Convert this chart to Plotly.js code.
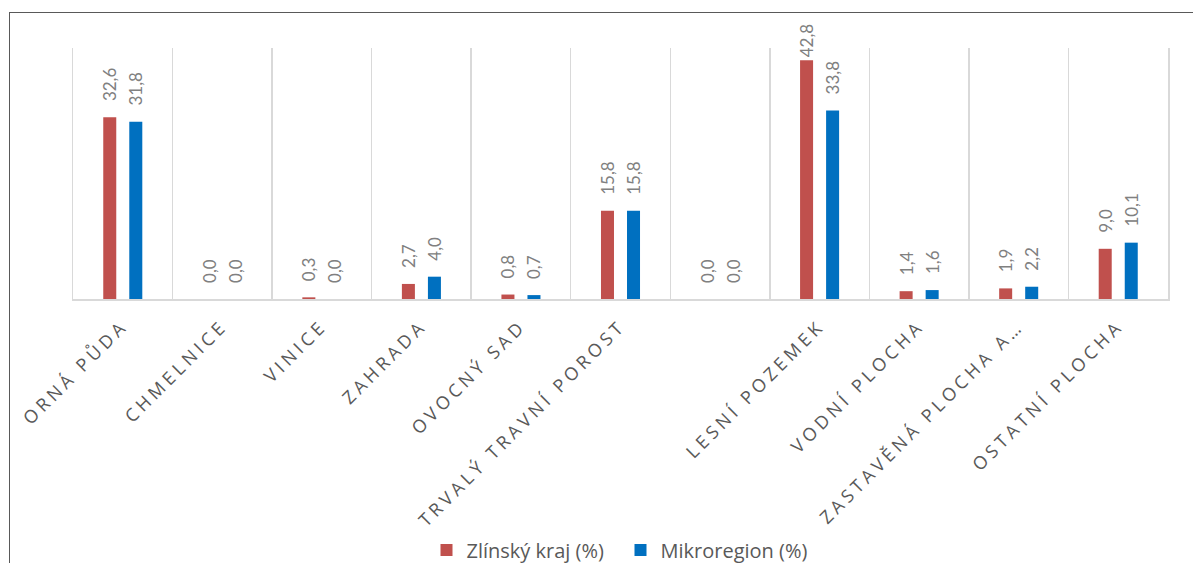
<!DOCTYPE html>
<html>
<head>
<meta charset="utf-8">
<script src="https://cdn.plot.ly/plotly-3.0.1.min.js"></script>
<style>
  html, body { margin: 0; padding: 0; background: #fff; overflow: hidden; }
  #wrap { position: relative; width: 1193px; height: 563px; }
  #chart { width: 1193px; height: 563px; }
  #frame { position: absolute; left: 9px; top: 12px; width: 1300px; height: 700px;
           border-left: 1px solid #595959; border-top: 1px solid #595959; pointer-events: none; }
  .xtick text { letter-spacing: 4px; }
</style>
</head>
<body>
<div id="wrap">
  <div id="chart"></div>
  <div id="frame"></div>
</div>
<script>
const categories = ["ORNÁ PŮDA", "CHMELNICE", "VINICE", "ZAHRADA", "OVOCNÝ SAD",
  "TRVALÝ TRAVNÍ POROST", "", "LESNÍ POZEMEK", "VODNÍ PLOCHA", "ZASTAVĚNÁ PLOCHA A…", "OSTATNÍ PLOCHA"];
const categoryIds = categories.map((c, i) => i);
const zlinsky = [32.6, 0.0, 0.3, 2.7, 0.8, 15.8, 0.0, 42.8, 1.4, 1.9, 9.0];
const mikroregion = [31.8, 0.0, 0.0, 4.0, 0.7, 15.8, 0.0, 33.8, 1.6, 2.2, 10.1];

const yMax = 45;
const labelFont = { family: "Lato, 'Noto Sans', sans-serif", size: 17, color: "#808080" };
// Excel-like label placement: a gap above the bar, unless the label would leave the chart area
function labels(vals) {
  return vals.map(v => (v > yMax - 5 ? "" : "\u00a0\u00a0\u00a0") + v.toFixed(1).replace(".", ","));
}

const traces = [
  { type: "bar", name: "Zlínský kraj (%)", x: categoryIds, y: zlinsky,
    marker: { color: "#c0504d" }, text: labels(zlinsky), textposition: "outside",
    textangle: -90, textfont: labelFont, constraintext: "none", cliponaxis: false, hoverinfo: "none" },
  { type: "bar", name: "Mikroregion (%)", x: categoryIds, y: mikroregion,
    marker: { color: "#0070c0" }, text: labels(mikroregion), textposition: "outside",
    textangle: -90, textfont: labelFont, constraintext: "none", cliponaxis: false, hoverinfo: "none" }
];

const layout = {
  width: 1193, height: 563,
  margin: { l: 73, r: 25, t: 48, b: 264 },
  paper_bgcolor: "#fff", plot_bgcolor: "#fff",
  separators: ", ",
  barmode: "group", bargap: 0.477, bargroupgap: 0.5,
  showlegend: true,
  legend: { orientation: "h", x: 0.5, xanchor: "center", xref: "paper",
    y: 0.023, yanchor: "middle", yref: "container",
    entrywidth: 149, entrywidthmode: "pixels",
    font: { family: "'Open Sans', 'Noto Sans', sans-serif", size: 20, color: "#595959" },
    traceorder: "normal" },
  xaxis: {
    type: "category", tickmode: "array", tickvals: categoryIds, ticktext: categories,
    tickson: "boundaries", ticks: "", showgrid: true, gridcolor: "#d9d9d9", gridwidth: 1.5,
    showline: true, linecolor: "#d9d9d9", linewidth: 1.5, automargin: false,
    ticklabelstandoff: 8,
    tickangle: -45, tickfont: { family: "'Open Sans', 'Noto Sans', sans-serif", size: 18, color: "#595959" },
    range: [-0.5, 10.5], fixedrange: true
  },
  yaxis: { range: [0, yMax], showgrid: false, zeroline: false, showticklabels: false, automargin: false,
    showline: true, mirror: true, linecolor: "#d9d9d9", linewidth: 1.5, ticks: "", fixedrange: true },
  font: { family: "'Open Sans', sans-serif" }
};

Plotly.newPlot("chart", traces, layout, { displayModeBar: false, staticPlot: true });
</script>
</body>
</html>
